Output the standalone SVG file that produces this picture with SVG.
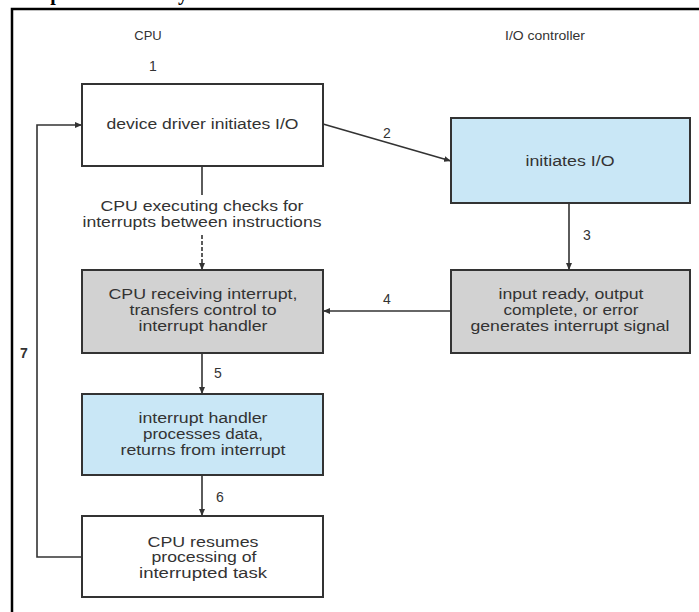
<svg xmlns="http://www.w3.org/2000/svg" width="699" height="612" viewBox="0 0 699 612">
<style>
.box{stroke:#333;stroke-width:2}
.white{fill:#ffffff}
.blue{fill:#c9e7f6}
.gray{fill:#d2d2d2}
.t{font-family:"Liberation Sans",Arial,sans-serif;font-size:14px;fill:#333;text-anchor:middle}
.h{font-family:"Liberation Sans",Arial,sans-serif;font-size:13px;fill:#333;text-anchor:middle}
.n{font-family:"Liberation Sans",Arial,sans-serif;font-size:14px;fill:#333;text-anchor:middle}
.c{stroke:#333;stroke-width:1.6;fill:none}
.title{font-family:"Liberation Serif","Times New Roman",serif;font-size:20px;font-weight:bold;fill:#000}
</style>
<defs>
<marker id="ah" markerUnits="userSpaceOnUse" markerWidth="7" markerHeight="6" refX="7" refY="3" orient="auto">
<path d="M0,0 L7,3 L0,6 z" fill="#333"/>
</marker>
</defs>
<rect width="699" height="612" fill="#ffffff"/>
<text class="title" x="-13" y="-0.5">Interrupt-driven I/O cycle</text>
<path d="M12,612 V9 H699" stroke="#000" stroke-width="2.5" fill="none"/>
<text class="h" x="148" y="40">CPU</text>
<text class="h" x="545" y="40" textLength="80" lengthAdjust="spacingAndGlyphs">I/O controller</text>
<g id="connectors">
<line class="c" x1="323" y1="124" x2="451" y2="161" marker-end="url(#ah)"/>
<line class="c" x1="569" y1="203" x2="569" y2="270" marker-end="url(#ah)"/>
<line class="c" x1="451" y1="311" x2="323" y2="311" marker-end="url(#ah)"/>
<line class="c" x1="202" y1="166" x2="202" y2="195"/>
<line class="c" x1="202" y1="235" x2="202" y2="270" stroke-dasharray="4,2" marker-end="url(#ah)"/>
<line class="c" x1="202" y1="353" x2="202" y2="394" marker-end="url(#ah)"/>
<line class="c" x1="202" y1="475" x2="202" y2="516" marker-end="url(#ah)"/>
<path class="c" d="M82,557 H37 V125 H82" marker-end="url(#ah)"/>
<text class="n" x="153" y="71">1</text>
<text class="n" x="387" y="138">2</text>
<text class="n" x="587" y="240">3</text>
<text class="n" x="387" y="304">4</text>
<text class="n" x="218" y="378">5</text>
<text class="n" x="220" y="502">6</text>
<text class="n" x="24" y="358" font-weight="bold">7</text>
<text class="t" x="202" y="211" textLength="203" lengthAdjust="spacingAndGlyphs">CPU executing checks for</text>
<text class="t" x="202" y="227" textLength="239" lengthAdjust="spacingAndGlyphs">interrupts between instructions</text>
</g>
<g id="n1">
<rect class="box white" x="82" y="84" width="241" height="82"/>
<text class="t" x="202.5" y="129" textLength="192" lengthAdjust="spacingAndGlyphs">device driver initiates I/O</text>
</g>
<g id="n2">
<rect class="box blue" x="451" y="118" width="239" height="85"/>
<text class="t" x="570" y="166" textLength="89" lengthAdjust="spacingAndGlyphs">initiates I/O</text>
</g>
<g id="n3">
<rect class="box gray" x="451" y="270" width="239" height="83"/>
<text class="t" x="571" y="299" textLength="145" lengthAdjust="spacingAndGlyphs">input ready, output</text>
<text class="t" x="571" y="315" textLength="135" lengthAdjust="spacingAndGlyphs">complete, or error</text>
<text class="t" x="570" y="331" textLength="199" lengthAdjust="spacingAndGlyphs">generates interrupt signal</text>
</g>
<g id="n4">
<rect class="box gray" x="82" y="270" width="241" height="83"/>
<text class="t" x="203" y="299" textLength="189" lengthAdjust="spacingAndGlyphs">CPU receiving interrupt,</text>
<text class="t" x="203" y="315" textLength="147" lengthAdjust="spacingAndGlyphs">transfers control to</text>
<text class="t" x="203" y="331" textLength="129" lengthAdjust="spacingAndGlyphs">interrupt handler</text>
</g>
<g id="n5">
<rect class="box blue" x="82" y="394" width="241" height="81"/>
<text class="t" x="203" y="423" textLength="129" lengthAdjust="spacingAndGlyphs">interrupt handler</text>
<text class="t" x="203" y="439" textLength="120" lengthAdjust="spacingAndGlyphs">processes data,</text>
<text class="t" x="203" y="455" textLength="165" lengthAdjust="spacingAndGlyphs">returns from interrupt</text>
</g>
<g id="n6">
<rect class="box white" x="82" y="516" width="241" height="81"/>
<text class="t" x="203" y="547" textLength="111" lengthAdjust="spacingAndGlyphs">CPU resumes</text>
<text class="t" x="204" y="562" textLength="105" lengthAdjust="spacingAndGlyphs">processing of</text>
<text class="t" x="203" y="578" textLength="128" lengthAdjust="spacingAndGlyphs">interrupted task</text>
</g>
</svg>
